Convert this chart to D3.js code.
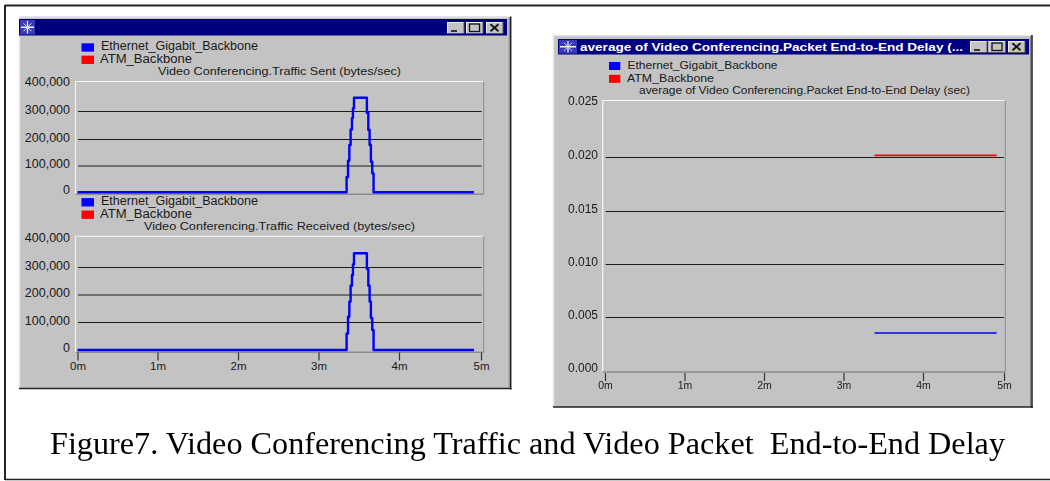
<!DOCTYPE html>
<html><head><meta charset="utf-8">
<script src="https://cdn.jsdelivr.net/npm/d3@7/dist/d3.min.js"></script>
<style>
html,body{margin:0;padding:0;background:#fff;overflow:hidden}
svg{display:block;filter:blur(0.4px)}
text{font-family:"Liberation Sans",Arial,sans-serif;fill:#1a1a1a}
</style></head><body>
<svg id="c" width="1050" height="481"></svg>
<script>
const seriesNames = ["Ethernet_Gigabit_Backbone", "ATM_Backbone"];
const seriesColors = ["#0000ff", "#ff0000"];
const minuteTicks = [0, 1, 2, 3, 4, 5];
const trafficTicks = [0, 100000, 200000, 300000, 400000];
const delayTicks = [0, 0.005, 0.01, 0.015, 0.02, 0.025];

const trafficTimes = [0, 3.349, 3.367, 3.383, 3.399, 3.416, 3.428, 3.441, 3.601, 3.619, 3.635, 3.651, 3.668, 3.684, 4.915];
const sentValues   = [0, 58000, 120000, 179000, 236000, 277000, 312000, 350000, 295000, 234000, 179000, 116000, 72000, 0, 0];
const recvValues   = [0, 60000, 121000, 176000, 234000, 273000, 312000, 352000, 295000, 234000, 176000, 116000, 73000, 0, 0];

const delayTimes = [3.39, 4.91];
const atmDelay = [0.0202, 0.0202];
const ethDelay = [0.00354, 0.00354];

const titleSent = "Video Conferencing.Traffic Sent (bytes/sec)";
const titleRecv = "Video Conferencing.Traffic Received (bytes/sec)";
const titleDelay = "average of Video Conferencing.Packet End-to-End Delay (sec)";
const windowTitle = "average of Video Conferencing.Packet End-to-End Delay (...";
const caption = "Figure7. Video Conferencing Traffic and Video Packet\u00a0 End-to-End Delay";

const svg = d3.select("#c");
const BG = "#c3c3c3";

function line(x1,y1,x2,y2,c,w){svg.append("line").attr("x1",x1).attr("y1",y1).attr("x2",x2).attr("y2",y2).attr("stroke",c).attr("stroke-width",w||1);}
function rect(x,y,w,h,c){return svg.append("rect").attr("x",x).attr("y",y).attr("width",w).attr("height",h).attr("fill",c);}

// page frame
line(5,5.5,1050,5.5,"#222",2);
line(5,5,5,480,"#222",2);
line(5,479.5,1050,479.5,"#222",1.5);

function button(x,y,kind){
  rect(x,y,17,11.5,"#c3c3c3");
  line(x,y+.5,x+17,y+.5,"#eee",1);
  line(x+.5,y,x+.5,y+11.5,"#eee",1);
  line(x+17,y,x+17,y+11.5,"#555",1);
  line(x,y+11.5,x+17,y+11.5,"#555",1);
  const cx=x+8.5, cy=y+5.8;
  if(kind==="min") line(x+4,y+9,x+10,y+9,"#111",1.6);
  if(kind==="max") svg.append("rect").attr("x",x+3.5).attr("y",y+2).attr("width",10).attr("height",7.5).attr("fill","none").attr("stroke","#111").attr("stroke-width",1.3);
  if(kind==="close"){line(cx-4,cy-3.5,cx+4,cy+3.5,"#111",1.8);line(cx+4,cy-3.5,cx-4,cy+3.5,"#111",1.8);}
}
function icon(x,y,w,h){
  rect(x,y,w,h,"#3a3ab8");
  const cx=x+w/2, cy=y+h/2;
  line(cx-w/2+1,cy,cx+w/2-1,cy,"#fff",1.4);
  line(cx,cy-h/2+1,cx,cy+h/2-1,"#fff",1.2);
  line(cx-4,cy-4,cx+4,cy+4,"#ddd",1);
  line(cx+4,cy-4,cx-4,cy+4,"#ddd",1);
}
function windowFrame(x0,y0,x1,y1,barX0,barY0,barX1,barY1,iconW,btnX,btnY){
  rect(x0,y0,x1-x0,y1-y0,BG);
  line(x0,y0+.5,x1,y0+.5,"#e6e6e6",1.5);
  line(x0+.5,y0,x0+.5,y1,"#e6e6e6",1.5);
  line(x1,y0,x1,y1+1,"#222",1.5);
  line(x0,y1,x1+.7,y1,"#222",1.5);
  line(x1-1.5,y0+1,x1-1.5,y1-1,"#808080",1);
  rect(barX0,barY0,barX1-barX0,barY1-barY0,"#000080");
  icon(barX0+1,barY0+1,iconW,barY1-barY0-2);
  button(btnX[0],btnY,"min");button(btnX[1],btnY,"max");button(btnX[2],btnY,"close");
}

function legend(xSwatch,xText,ys,swW,swH,size,lens){
  seriesNames.forEach((n,i)=>{
    rect(xSwatch,ys[i]-swH/2,swW,swH,seriesColors[i]);
    svg.append("text").attr("x",xText[i]).attr("y",ys[i]-1.2).attr("dominant-baseline","central")
      .attr("font-size",size).attr("textLength",lens[i]).attr("lengthAdjust","spacingAndGlyphs").text(n);
  });
}

function plot(o){
  const f=o.frame;
  line(f[0],f[1],f[2],f[1],"#f4f4f4",1);
  line(f[0],f[1],f[0],f[3],"#f4f4f4",1.2);
  line(f[2],f[1],f[2],f[3],"#8c8c8c",1);
  line(f[0],f[3],f[2],f[3],"#8c8c8c",1.5);
  o.yTicks.filter(d=>d>0 && d<o.yTicks[o.yTicks.length-1]).forEach(d=>line(o.gridX[0],o.y(d),o.gridX[1],o.y(d),"#1c1c1c",1));
  const ay=svg.append("g").attr("transform",`translate(${o.labelX+2},${o.labelDy})`)
    .call(d3.axisLeft(o.y).tickValues(o.yTicks).tickSize(0).tickPadding(2).tickFormat(o.yFmt));
  ay.select(".domain").remove();
  ay.selectAll("text").attr("font-size",o.yFont);
  ay.attr("font-family",null).attr("font-size",null);
  if(o.axisY!==undefined){
    const ax=svg.append("g").attr("transform",`translate(0,${o.axisY})`)
      .call(d3.axisBottom(o.x).tickValues(minuteTicks).tickSize(8).tickPadding(1).tickFormat(d=>d+"m"));
    ax.select(".domain").remove();
    ax.selectAll("line").attr("stroke","#333").attr("stroke-width",1.2);
    ax.selectAll("text").attr("font-size",o.xFont);
    ax.attr("font-family",null).attr("font-size",null);
  }
  o.series.forEach(s=>{
    const pts=s.t.map((t,i)=>[t,s.v[i]]);
    svg.append("path").datum(pts).attr("fill","none").attr("stroke",s.c).attr("stroke-width",s.w)
      .attr("stroke-linejoin","round")
      .attr("d",d3.line().x(d=>o.x(d[0])).y(d=>o.y(d[1])).curve(s.step?d3.curveStepAfter:d3.curveLinear));
  });
}

// left window
windowFrame(19,16.5,510.7,388.5,19,19,507,35.5,15,[447,466,486],22);
const xL=d3.scaleLinear().domain(minuteTicks).range([77.5,157.5,238,318.5,399,481]);
const fmtK=d3.format(",");
const y1=d3.scaleLinear().domain(trafficTicks).range([192.3,166,139.5,111.5,84]);
const y2=d3.scaleLinear().domain(trafficTicks).range([350,322.5,295,267.5,240]);

legend(81.5,[101,100],[47.5,59.8],12.5,8.3,12,[157,92]);
svg.append("text").attr("x",158).attr("y",71).attr("dominant-baseline","central").attr("font-size",11.5).attr("textLength",243).attr("lengthAdjust","spacingAndGlyphs").text(titleSent);
plot({frame:[75.5,81.5,483.7,194.3],gridX:[78,481.7],y:y1,x:xL,yTicks:trafficTicks,yFmt:fmtK,labelX:70,labelDy:-2.5,yFont:12.5,xFont:11,
  series:[{t:trafficTimes,v:sentValues,c:seriesColors[0],w:2.4,step:true}]});

legend(81.5,[101,100],[202.3,214.7],12.5,8.3,12,[157,92]);
svg.append("text").attr("x",144).attr("y",226).attr("dominant-baseline","central").attr("font-size",11.5).attr("textLength",271).attr("lengthAdjust","spacingAndGlyphs").text(titleRecv);
plot({frame:[75.5,236.3,483.7,352.3],gridX:[78,481.7],y:y2,x:xL,yTicks:trafficTicks,yFmt:fmtK,labelX:70,labelDy:-2.5,yFont:12.5,xFont:11.5,axisY:352.5,
  series:[{t:trafficTimes,v:recvValues,c:seriesColors[0],w:2.4,step:true}]});

// right window
windowFrame(553,35,1032,407,558,39,1029,54.5,18,[970,988.5,1008],41);
svg.append("text").attr("x",580).attr("y",47).attr("dominant-baseline","central").attr("font-size",11.5).attr("font-weight","bold").style("fill","#fff").attr("textLength",383).attr("lengthAdjust","spacingAndGlyphs").text(windowTitle);
const xR=d3.scaleLinear().domain(minuteTicks).range([605,684.5,764,843.5,923,1004]);
const yR=d3.scaleLinear().domain(delayTicks).range([370.6,317.5,264.5,211.5,157.5,104]);
legend(609,[627.5,627],[66,78.8],11.3,8,11.5,[150,87]);
svg.append("text").attr("x",639).attr("y",90).attr("dominant-baseline","central").attr("font-size",11.5).attr("textLength",331).attr("lengthAdjust","spacingAndGlyphs").text(titleDelay);
plot({frame:[602.7,100.5,1005.3,372],gridX:[605.7,1004],y:yR,x:xR,yTicks:delayTicks,yFmt:d3.format(".3f"),labelX:598,labelDy:-3,yFont:12,xFont:10.5,axisY:373,
  series:[{t:delayTimes,v:atmDelay,c:seriesColors[1],w:1.7},{t:delayTimes,v:ethDelay,c:seriesColors[0],w:1.7}]});

// caption
svg.append("text").attr("x",50).attr("y",454).attr("font-size",30.5).style("font-family","'Liberation Serif','Times New Roman',serif").style("fill","#000")
  .attr("textLength",955).attr("lengthAdjust","spacingAndGlyphs").text(caption);
</script>
</body></html>
